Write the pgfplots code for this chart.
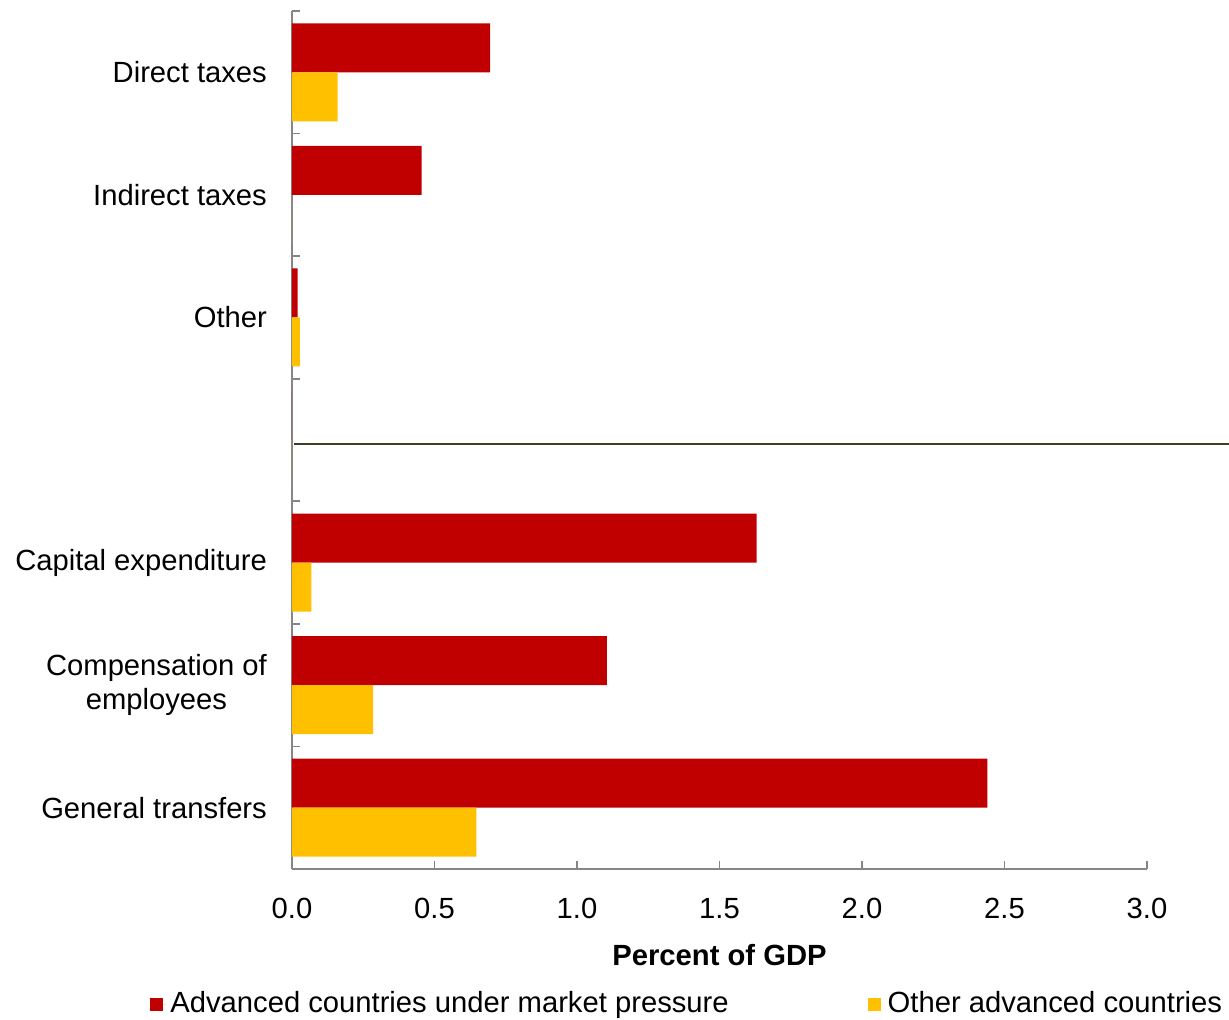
\documentclass[border=0pt]{standalone}
\usepackage{pgfplots}
\pgfplotsset{compat=1.18}
\usepackage{fontspec}
\setmainfont{Liberation Sans}
\definecolor{cred}{HTML}{C00000}
\definecolor{cyel}{HTML}{FFC000}
\definecolor{caxis}{HTML}{868686}
\definecolor{csep}{HTML}{3F3D22}
\begin{document}
\fontsize{14.6}{17}\selectfont
\begin{tikzpicture}
\begin{axis}[
  at={(0,0)}, anchor=south west,
  scale only axis,
  width=427.5pt, height=429pt,
  xbar, bar width=24.5pt,
  xmin=0, xmax=3, ymin=-0.5, ymax=6.5,
  axis lines*=left,
  axis line style={caxis, line width=0.9pt, -},
  tick style={caxis, line width=0.9pt},
  tick align=inside,
  major tick length=4pt,
  xtick={0,0.5,...,3},
  xticklabel style={/pgf/number format/.cd, fixed, fixed zerofill, precision=1, /tikz/.cd, yshift=-9.5pt},
  /pgf/number format/assume math mode=true,
  ytick={-0.5,0.5,...,6.5},
  y tick label as interval,
  yticklabels={General transfers, {Compensation of\\employees}, Capital expenditure, {}, Other, Indirect taxes, Direct taxes},
  yticklabel style={align=center, xshift=-7.5pt},
  xlabel={\textbf{Percent of GDP}},
  xlabel style={yshift=-3pt},
  clip=false,
  legend columns=2,
  legend style={draw=none, fill=none, at={(0,0)}, anchor=west, xshift=-71pt, yshift=-67.5pt,
    /tikz/every even column/.append style={column sep=67.5pt}, inner sep=0pt,
    nodes={inner sep=2pt}},
  legend image code/.code={\fill[#1, draw=none] (0pt,-3.25pt) rectangle (6.5pt,3.25pt); \path (0pt,0pt) -- (8pt,0pt);},
]
\addplot[fill=cred, draw=none, bar shift=12.25pt] coordinates {
  (2.44,0) (1.105,1) (1.63,2) (0,3) (0.02,4) (0.455,5) (0.695,6)};
\addlegendentry{Advanced countries under market pressure}
\addplot[fill=cyel, draw=none, bar shift=-12.25pt] coordinates {
  (0.647,0) (0.285,1) (0.068,2) (0,3) (0.028,4) (0,5) (0.16,6)};
\addlegendentry{Other advanced countries}
\draw[csep, line width=1pt] (axis cs:0.007,2.97) -- (axis cs:3.288,2.97);
\end{axis}
\pgfresetboundingbox
\path[use as bounding box] (-146pt,-75.5pt) rectangle (468.5pt,434.5pt);
\end{tikzpicture}
\end{document}
